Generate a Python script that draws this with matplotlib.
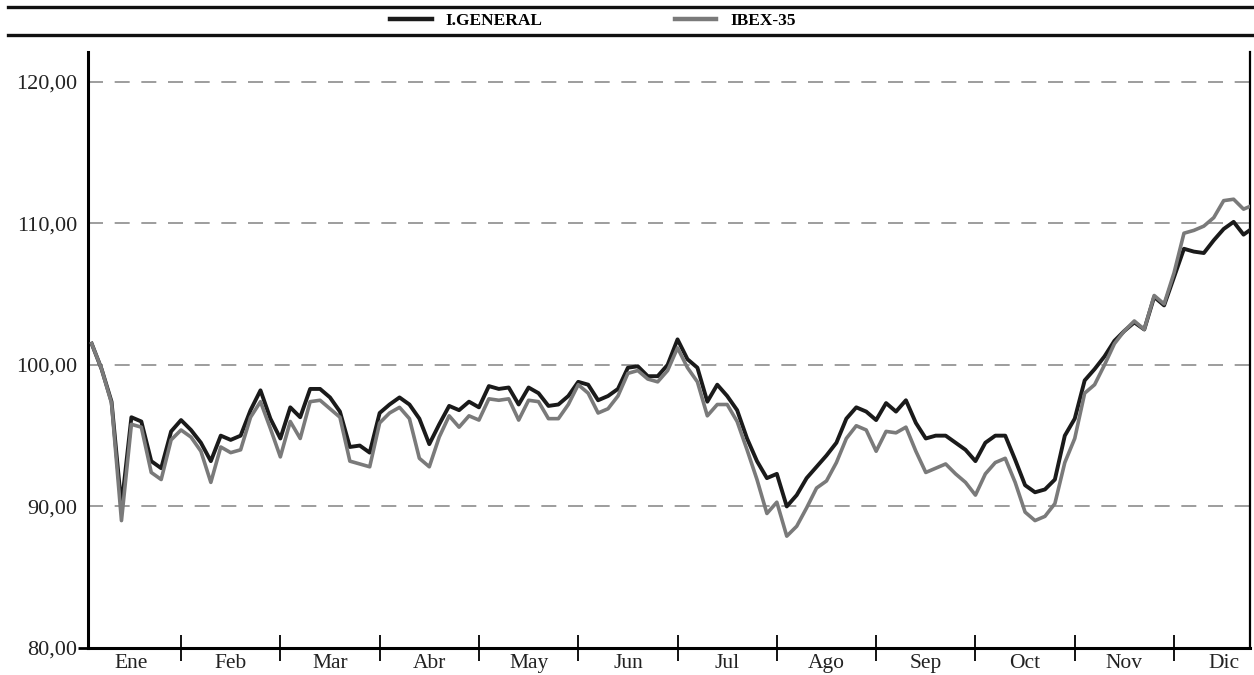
import numpy as np
import matplotlib
matplotlib.use("Agg")
import matplotlib.pyplot as plt
from matplotlib.lines import Line2D

plt.rcParams["font.family"] = ["Liberation Serif", "DejaVu Serif"]

# months of the year, series sampled every 0.1 month from 0.1 to 11.8
months = ["Ene", "Feb", "Mar", "Abr", "May", "Jun",
          "Jul", "Ago", "Sep", "Oct", "Nov", "Dic"]

general = [
    101.5, 99.7, 97.4, 90.0, 96.3, 96.0, 93.2, 92.7, 95.3, 96.1,
    95.4, 94.5, 93.2, 95.0, 94.7, 95.0, 96.8, 98.2, 96.2, 94.8,
    97.0, 96.3, 98.3, 98.3, 97.7, 96.7, 94.2, 94.3, 93.8, 96.6,
    97.2, 97.7, 97.2, 96.2, 94.4, 95.8, 97.1, 96.8, 97.4, 97.0,
    98.5, 98.3, 98.4, 97.2, 98.4, 98.0, 97.1, 97.2, 97.8, 98.8,
    98.6, 97.5, 97.8, 98.3, 99.8, 99.9, 99.2, 99.2, 100.0, 101.8,
    100.4, 99.8, 97.4, 98.6, 97.8, 96.8, 94.8, 93.2, 92.0, 92.3,
    90.0, 90.8, 92.0, 92.8, 93.6, 94.5, 96.2, 97.0, 96.7, 96.1,
    97.3, 96.7, 97.5, 95.9, 94.8, 95.0, 95.0, 94.5, 94.0, 93.2,
    94.5, 95.0, 95.0, 93.3, 91.5, 91.0, 91.2, 91.9, 95.0, 96.2,
    98.9, 99.7, 100.6, 101.7, 102.4, 103.0, 102.5, 104.8, 104.2, 106.2,
    108.2, 108.0, 107.9, 108.8, 109.6, 110.1, 109.2, 109.7,
]

ibex = [
    101.5, 99.7, 97.3, 89.0, 95.8, 95.6, 92.4, 91.9, 94.7, 95.4,
    94.9, 93.9, 91.7, 94.2, 93.8, 94.0, 96.3, 97.4, 95.5, 93.5,
    96.0, 94.8, 97.4, 97.5, 96.9, 96.3, 93.2, 93.0, 92.8, 95.9,
    96.6, 97.0, 96.2, 93.4, 92.8, 94.9, 96.4, 95.6, 96.4, 96.1,
    97.6, 97.5, 97.6, 96.1, 97.5, 97.4, 96.2, 96.2, 97.2, 98.6,
    98.0, 96.6, 96.9, 97.8, 99.4, 99.6, 99.0, 98.8, 99.6, 101.2,
    99.8, 98.8, 96.4, 97.2, 97.2, 96.0, 94.0, 91.9, 89.5, 90.3,
    87.9, 88.6, 89.9, 91.3, 91.8, 93.1, 94.8, 95.7, 95.4, 93.9,
    95.3, 95.2, 95.6, 93.9, 92.4, 92.7, 93.0, 92.3, 91.7, 90.8,
    92.3, 93.1, 93.4, 91.7, 89.6, 89.0, 89.3, 90.2, 93.1, 94.8,
    98.0, 98.6, 100.0, 101.5, 102.4, 103.1, 102.5, 104.9, 104.3, 106.5,
    109.3, 109.5, 109.8, 110.4, 111.6, 111.7, 111.0, 111.3,
]

y_ticks = [80, 90, 100, 110, 120]
y_labels = ["80,00", "90,00", "100,00", "110,00", "120,00"]

t = 0.1 * np.arange(1, len(general) + 1)

fig = plt.figure(figsize=(12.54, 6.75), dpi=100)
ax = fig.add_axes([88 / 1254, 27 / 675, 1162 / 1254, 596 / 675])

for v in y_ticks[1:]:
    ax.axhline(v, color="#8c8c8c", lw=1.2, dashes=(9, 7), zorder=1)

ax.plot(t, general, color="#1a1a1a", lw=2.8, zorder=3)
ax.plot(t, ibex, color="#7a7a7a", lw=2.6, zorder=4)

ax.set_xlim(0.063, 11.765)
ax.set_ylim(80, 122.1)

ax.set_yticks(y_ticks)
ax.set_yticklabels(y_labels, fontsize=16, color="#222222")
ax.tick_params(axis="y", length=7, width=2, pad=1)
for i, tl in enumerate(ax.yaxis.get_ticklines()):
    if i > 1:
        tl.set_visible(False)

ax.set_xticks(np.arange(12) + 0.5)
ax.set_xticklabels(months, fontsize=15.5, color="#222222")
ax.tick_params(axis="x", which="major", length=0, pad=4)
ax.set_xticks(np.arange(1, 12), minor=True)
ax.tick_params(axis="x", which="minor", direction="inout", length=19, width=1.3)

ax.spines["top"].set_visible(False)
ax.spines["left"].set_linewidth(2.2)
ax.spines["bottom"].set_linewidth(2.2)
ax.spines["right"].set_linewidth(1.6)

# header rules and legend
fig.add_artist(Line2D([8 / 1254, 1], [1 - 7 / 675] * 2, color="#111111", lw=2.4))
fig.add_artist(Line2D([8 / 1254, 1], [1 - 35 / 675] * 2, color="#111111", lw=2.4))

handles = [Line2D([], [], color="#1a1a1a", lw=3.2),
           Line2D([], [], color="#7a7a7a", lw=3.2)]
fig.legend(handles, ["I.GENERAL", "IBEX-35"], loc="center",
           bbox_to_anchor=(593 / 1254, 1 - 21 / 675), ncol=2, frameon=False,
           prop={"weight": "bold", "size": 12.5}, handlelength=2.4,
           handletextpad=0.8, columnspacing=7.6)

fig.savefig("out.png", dpi=100)
